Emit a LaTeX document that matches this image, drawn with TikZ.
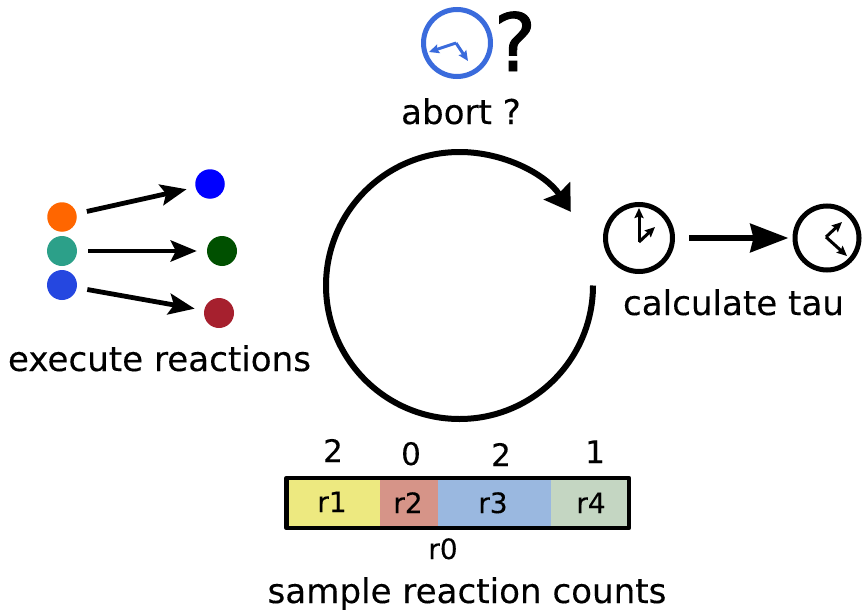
\documentclass[tikz,border=0pt]{standalone}
\usepackage{fontspec}
\setmainfont{DejaVu Sans}[FakeBold=0.25]
\newfontfamily\heavyq{DejaVu Sans}[FakeBold=1.2]
\usetikzlibrary{arrows.meta}
\definecolor{cOrange}{HTML}{FF6600}
\definecolor{cTeal}{HTML}{2CA089}
\definecolor{cBlue}{HTML}{2547E0}
\definecolor{cPure}{HTML}{0000FF}
\definecolor{cGreen}{HTML}{005000}
\definecolor{cRed}{HTML}{A6202E}
\definecolor{cClock}{HTML}{3A6BDC}
\definecolor{cRa}{HTML}{EDE980}
\definecolor{cRb}{HTML}{D69488}
\definecolor{cRc}{HTML}{9AB8E0}
\definecolor{cRd}{HTML}{C4D6C2}
\tikzset{
  dot/.style={circle,inner sep=0pt,minimum size=29.5pt},
  react/.style={line width=4.8pt,-{Stealth[length=26pt,width=21pt,inset=5pt]}},
  clockface/.style={circle,draw,line width=5pt,inner sep=0pt,fill=white},
  hand/.style={line width=3pt,-{Stealth[length=10pt,width=9pt,inset=1.5pt]}},
  big/.style={anchor=base,font=\fontsize{34.1}{36}\selectfont},
  count/.style={anchor=base,font=\fontsize{31}{34}\selectfont},
  rlab/.style={anchor=base,font=\fontsize{28}{30}\selectfont},
  seg/.style={anchor=north west,inner sep=0pt,minimum height=50pt}
}
\begin{document}
\begin{tikzpicture}[x=1pt,y=-1pt]
\useasboundingbox (0,0) rectangle (862,610);
% blue clock and question mark
\node[clockface,draw=cClock,minimum size=67pt] (abortclock) at (457,43) {};
\coordinate (abortc) at (456,43);
\coordinate (aborta) at (429,52);
\coordinate (abortb) at (468,61);
\draw[hand,cClock] (abortc) -- (aborta);
\draw[hand,cClock] (abortc) -- (abortb);
\node[anchor=base,font=\fontsize{80}{84}\heavyq] (qmark) at (515,71) {?};
\node[big] (abort) at (461,124) {abort ?};
% main loop
\coordinate (loopc) at (459.5,285.5);
\draw[line width=6pt,-{Stealth[length=25pt,width=31pt,inset=3pt]}] (593,285.5) arc[start angle=0,end angle=-326.5,radius=133.5pt];
% reactions
\node[dot,fill=cOrange] (r1in) at (62,217) {};
\node[dot,fill=cTeal,minimum size=30pt] (r2in) at (62,251) {};
\node[dot,fill=cBlue,minimum size=30pt] (r3in) at (62,285) {};
\node[dot,fill=cPure] (r1out) at (210,184) {};
\node[dot,fill=cGreen,minimum size=30pt] (r2out) at (222,251) {};
\node[dot,fill=cRed,minimum size=30pt] (r3out) at (219,313) {};
\draw[react,shorten <=10.5pt,shorten >=9pt] (r1in) -- (r1out);
\draw[react,shorten <=11pt,shorten >=10pt] (r2in) -- (r2out);
\draw[react,shorten <=10.5pt,shorten >=9.5pt] (r3in) -- (r3out);
\node[big] (exec) at (159.5,371) {execute reactions};
% clocks
\node[clockface,minimum size=67pt] (clocka) at (639,238) {};
\coordinate (clockac) at (639,242);
\coordinate (clockah) at (639,208);
\coordinate (clockam) at (655,227);
\draw[hand] (clockac) -- (clockah);
\draw[hand] (clockac) -- (clockam);
\node[clockface,minimum size=64pt] (clockb) at (827,238) {};
\coordinate (clockbc) at (826,237);
\coordinate (clockbh) at (842,222);
\coordinate (clockbm) at (847,256);
\draw[hand] (clockbc) -- (clockbh);
\draw[hand] (clockbc) -- (clockbm);
\draw[line width=6.5pt,-{Stealth[length=38pt,width=28pt,inset=3pt]},shorten <=14pt,shorten >=4pt] (clocka) -- (clockb);
\node[big] (calc) at (733.5,315) {calculate tau};
% bar
\node[seg,fill=cRa,minimum width=93pt] (s1) at (287,478) {};
\node[seg,fill=cRb,minimum width=58pt] (s2) at (380,478) {};
\node[seg,fill=cRc,minimum width=113pt] (s3) at (438,478) {};
\node[seg,fill=cRd,minimum width=79pt] (s4) at (551,478) {};
\draw[line width=4.5pt,line join=round] (286.5,478) rectangle (629,528);
\node[rlab] (l1) at (332,512) {r1};
\node[rlab] (l2) at (408,513) {r2};
\node[rlab] (l3) at (493,513) {r3};
\node[rlab] (l4) at (591,513) {r4};
\node[anchor=base,font=\fontsize{28}{30}\selectfont] (l0) at (443,559) {r0};
\node[count] (n1) at (333,462) {2};
\node[count] (n2) at (411,465) {0};
\node[count] (n3) at (501,466) {2};
\node[count] (n4) at (595,463) {1};
\node[big] (sample) at (467,603) {sample reaction counts};
\end{tikzpicture}
\end{document}
